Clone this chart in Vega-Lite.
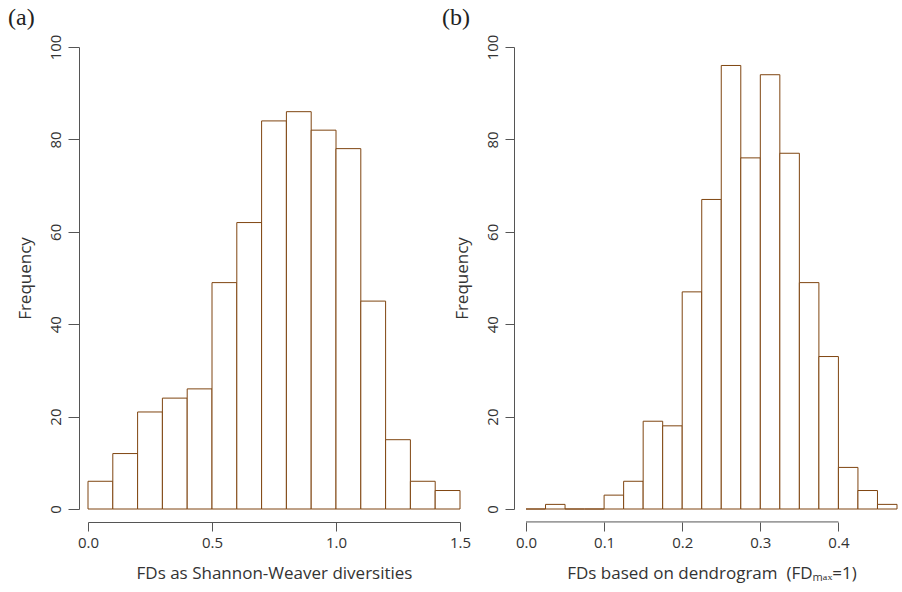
{
  "$schema": "https://vega.github.io/schema/vega-lite/v6.json",
  "background": "white",
  "padding": {"left": 8, "top": 6, "right": 2, "bottom": 5},
  "bounds": "flush",
  "spacing": 66,
  "config": {
    "font": "Open Sans",
    "view": {"stroke": null},
    "axis": {
      "domainColor": "#555555", "tickColor": "#555555", "labelColor": "#333333", "titleColor": "#333333",
      "labelFontSize": 15, "titleFontSize": 17, "labelFont": "Open Sans", "titleFont": "Open Sans",
      "titleFontWeight": "normal", "grid": false, "domainWidth": 1, "tickWidth": 1, "labelFlush": false
    },
    "title": {"font": "Liberation Serif", "fontSize": 24, "fontWeight": "normal", "anchor": "start", "color": "#222222", "frame": "group"}
  },
  "datasets": {
    "a": [
      {"lo": 0.0, "hi": 0.1, "count": 6},
      {"lo": 0.1, "hi": 0.2, "count": 12},
      {"lo": 0.2, "hi": 0.3, "count": 21},
      {"lo": 0.3, "hi": 0.4, "count": 24},
      {"lo": 0.4, "hi": 0.5, "count": 26},
      {"lo": 0.5, "hi": 0.6, "count": 49},
      {"lo": 0.6, "hi": 0.7, "count": 62},
      {"lo": 0.7, "hi": 0.8, "count": 84},
      {"lo": 0.8, "hi": 0.9, "count": 86},
      {"lo": 0.9, "hi": 1.0, "count": 82},
      {"lo": 1.0, "hi": 1.1, "count": 78},
      {"lo": 1.1, "hi": 1.2, "count": 45},
      {"lo": 1.2, "hi": 1.3, "count": 15},
      {"lo": 1.3, "hi": 1.4, "count": 6},
      {"lo": 1.4, "hi": 1.5, "count": 4}
    ],
    "b": [
      {"lo": 0.0, "hi": 0.025, "count": 0},
      {"lo": 0.025, "hi": 0.05, "count": 1},
      {"lo": 0.05, "hi": 0.075, "count": 0},
      {"lo": 0.075, "hi": 0.1, "count": 0},
      {"lo": 0.1, "hi": 0.125, "count": 3},
      {"lo": 0.125, "hi": 0.15, "count": 6},
      {"lo": 0.15, "hi": 0.175, "count": 19},
      {"lo": 0.175, "hi": 0.2, "count": 18},
      {"lo": 0.2, "hi": 0.225, "count": 47},
      {"lo": 0.225, "hi": 0.25, "count": 67},
      {"lo": 0.25, "hi": 0.275, "count": 96},
      {"lo": 0.275, "hi": 0.3, "count": 76},
      {"lo": 0.3, "hi": 0.325, "count": 94},
      {"lo": 0.325, "hi": 0.35, "count": 77},
      {"lo": 0.35, "hi": 0.375, "count": 49},
      {"lo": 0.375, "hi": 0.4, "count": 33},
      {"lo": 0.4, "hi": 0.425, "count": 9},
      {"lo": 0.425, "hi": 0.45, "count": 4},
      {"lo": 0.45, "hi": 0.475, "count": 1}
    ],
    "baxis": [{"from": 0, "to": 0.4, "level": -2.8}]
  },
  "hconcat": [
    {
      "title": {"text": "(a)", "dx": -80, "offset": 4},
      "width": 372,
      "height": 462,
      "data": {"name": "a"},
      "mark": {"type": "bar", "fill": "white", "stroke": "#7f4510", "strokeWidth": 1},
      "encoding": {
        "x": {
          "field": "lo", "type": "quantitative",
          "scale": {"domain": [0, 1.5], "nice": false, "zero": false},
          "axis": {"values": [0, 0.5, 1, 1.5], "format": ".1f", "offset": 13, "tickSize": 9, "labelPadding": 4, "title": "FDs as Shannon-Weaver diversities", "titlePadding": 15}
        },
        "x2": {"field": "hi"},
        "y": {
          "field": "count", "type": "quantitative",
          "scale": {"domain": [0, 100], "nice": false},
          "axis": {"values": [0, 20, 40, 60, 80, 100], "offset": 9, "tickSize": 11, "labelAngle": 270, "labelAlign": "center", "labelBaseline": "bottom", "labelPadding": 5, "title": "Frequency", "titlePadding": 14}
        },
        "y2": {"datum": 0}
      }
    },
    {
      "title": {"text": "(b)", "dx": -84, "offset": 4},
      "width": 371,
      "height": 462,
      "layer": [
        {
          "data": {"name": "b"},
          "mark": {"type": "bar", "fill": "white", "stroke": "#7f4510", "strokeWidth": 1},
          "encoding": {
            "x": {
              "field": "lo", "type": "quantitative",
              "scale": {"domain": [0, 0.475], "nice": false, "zero": false},
              "axis": {"values": [0, 0.1, 0.2, 0.3, 0.4], "format": ".1f", "domain": false, "offset": 13, "tickSize": 9, "labelPadding": 4, "title": "FDs based on dendrogram\u00a0\u00a0(FDₘₐₓ=1)", "titlePadding": 15}
            },
            "x2": {"field": "hi"},
            "y": {
              "field": "count", "type": "quantitative",
              "scale": {"domain": [0, 100], "nice": false},
              "axis": {"values": [0, 20, 40, 60, 80, 100], "offset": 12, "tickSize": 9, "labelAngle": 270, "labelAlign": "center", "labelBaseline": "bottom", "labelPadding": 5, "title": "Frequency", "titlePadding": 14}
            },
            "y2": {"datum": 0}
          }
        },
        {
          "data": {"name": "baxis"},
          "mark": {"type": "rule", "color": "#555555", "strokeWidth": 1},
          "encoding": {
            "x": {"field": "from", "type": "quantitative"},
            "x2": {"field": "to"},
            "y": {"field": "level", "type": "quantitative"}
          }
        }
      ]
    }
  ]
}
